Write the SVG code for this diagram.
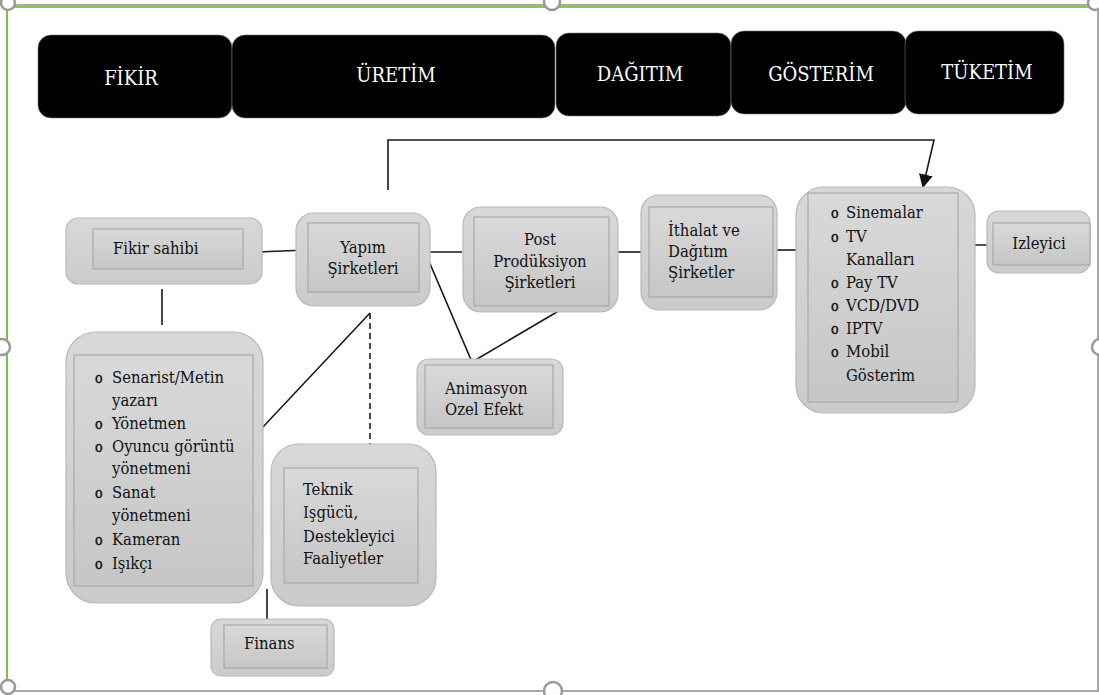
<svg xmlns="http://www.w3.org/2000/svg" width="1099" height="695" viewBox="0 0 1099 695">
<style>
.band{fill:#000;stroke:#777;stroke-width:0.6}
.bt{font-size:20px;fill:#fff;text-anchor:middle}
.outer{fill:url(#go);stroke:#b9b9b9;stroke-width:1.2}
.inner{fill:url(#gi);stroke:#a9a9a9;stroke-width:1.2}
.t{font-size:16.5px;fill:#111}
.c{text-anchor:middle}
.b{font-size:14px;fill:#111;stroke:#111;stroke-width:0.4}
.ln{stroke:#1a1a1a;stroke-width:1.6;fill:none}
.frame{stroke:#a8a8a8;stroke-width:2;fill:none}
.handle{fill:#fff;stroke:#9a9a9a;stroke-width:2.5}
</style>
<defs>
<linearGradient id="go" x1="0" y1="0" x2="0" y2="1">
<stop offset="0" stop-color="#d8d8d8"/><stop offset="1" stop-color="#cbcbcb"/>
</linearGradient>
<linearGradient id="gi" x1="0" y1="0" x2="0" y2="1">
<stop offset="0" stop-color="#d9d9d9"/><stop offset="1" stop-color="#c6c6c6"/>
</linearGradient>
<marker id="ah" viewBox="0 0 10 10" refX="9" refY="5" markerWidth="14" markerHeight="14" orient="auto" markerUnits="userSpaceOnUse">
<path d="M0,0 L10,5 L0,10 z" fill="#111"/>
</marker>
</defs>
<rect width="1099" height="695" fill="#fff"/>
<g id="frame">
<line x1="7" y1="7" x2="1097" y2="7" stroke="#8cc65a" stroke-width="2"/>
<line x1="7" y1="5" x2="1097" y2="5" class="frame"/>
<line x1="7" y1="8" x2="7" y2="682" stroke="#7dc24b" stroke-width="2"/>
<line x1="14" y1="691" x2="1099" y2="691" class="frame"/>
<line x1="1098" y1="8" x2="1098" y2="691" class="frame" stroke-width="1.5"/>
<circle cx="8" cy="3" r="7" class="handle"/>
<circle cx="552" cy="2" r="8" class="handle"/>
<circle cx="1095" cy="3" r="7" class="handle"/>
<circle cx="2" cy="347" r="8" class="handle"/>
<circle cx="1100" cy="347" r="8" class="handle"/>
<circle cx="8" cy="687" r="7" class="handle"/>
<circle cx="553" cy="691" r="9" class="handle"/>
</g>
<g font-family="'DejaVu Serif Condensed', 'DejaVu Serif', serif" font-stretch="condensed">
<g id="band-fikir"><rect x="38" y="35" width="194" height="83" rx="13" class="band"/><text x="131" y="85" class="bt">FİKİR</text></g>
<g id="band-uretim"><rect x="232" y="35" width="323" height="83" rx="13" class="band"/><text x="396" y="82" class="bt">ÜRETİM</text></g>
<g id="band-dagitim"><rect x="556" y="33" width="175" height="83" rx="13" class="band"/><text x="640" y="81" class="bt">DAĞITIM</text></g>
<g id="band-gosterim"><rect x="731" y="31" width="175" height="83" rx="13" class="band"/><text x="821" y="81" class="bt">GÖSTERİM</text></g>
<g id="band-tuketim"><rect x="905" y="31" width="159" height="83" rx="13" class="band"/><text x="987" y="79" class="bt">TÜKETİM</text></g>
<g id="connectors">
<polyline points="388,190 388,140 934,140 923,187" class="ln" marker-end="url(#ah)"/>
<line x1="257" y1="252" x2="307" y2="250" class="ln"/>
<line x1="162" y1="289" x2="162" y2="325" class="ln"/>
<line x1="262" y1="428" x2="370" y2="313" class="ln"/>
<line x1="370" y1="313" x2="370" y2="466" class="ln" stroke-dasharray="6,4"/>
<line x1="267" y1="589" x2="267" y2="624" class="ln"/>
<line x1="425" y1="252" x2="462" y2="252" class="ln"/>
<polyline points="425,252 472,362 562,309" class="ln"/>
<line x1="617" y1="252" x2="648" y2="252" class="ln"/>
<line x1="773" y1="250" x2="800" y2="250" class="ln"/>
<line x1="958" y1="245" x2="991" y2="245" class="ln"/>
</g>
<g id="fikir-sahibi">
<rect x="66" y="218" width="196" height="66" rx="12" class="outer"/>
<rect x="93" y="229" width="150" height="40" class="inner"/>
<text x="113" y="254" class="t">Fikir sahibi</text>
</g>
<g id="yapim">
<rect x="296" y="213" width="134" height="93" rx="18" class="outer"/>
<rect x="308" y="223" width="111" height="69" class="inner"/>
<text x="363" y="253" class="t c">Yapım</text>
<text x="363" y="274" class="t c">Şirketleri</text>
</g>
<g id="post">
<rect x="463" y="207" width="155" height="105" rx="18" class="outer"/>
<rect x="474" y="217" width="135" height="89" class="inner"/>
<text x="540" y="245" class="t c">Post</text>
<text x="540" y="267" class="t c">Prodüksiyon</text>
<text x="540" y="288" class="t c">Şirketleri</text>
</g>
<g id="ithalat">
<rect x="641" y="195" width="136" height="115" rx="18" class="outer"/>
<rect x="649" y="207" width="124" height="90" class="inner"/>
<text x="668" y="236" class="t">İthalat ve</text>
<text x="668" y="257" class="t">Dağıtım</text>
<text x="668" y="278" class="t">Şirketler</text>
</g>
<g id="animasyon">
<rect x="417" y="359" width="146" height="76" rx="12" class="outer"/>
<rect x="425" y="365" width="128" height="63" class="inner"/>
<text x="445" y="394" class="t">Animasyon</text>
<text x="445" y="415" class="t">Ozel Efekt</text>
</g>
<g id="gosterim">
<rect x="796" y="187" width="179" height="226" rx="28" class="outer"/>
<rect x="808" y="193" width="150" height="209" class="inner"/>
<text x="831" y="218" class="b">o</text><text x="846" y="218" class="t">Sinemalar</text>
<text x="831" y="242" class="b">o</text><text x="846" y="242" class="t">TV</text>
<text x="846" y="265" class="t">Kanalları</text>
<text x="831" y="288" class="b">o</text><text x="846" y="288" class="t">Pay TV</text>
<text x="831" y="311" class="b">o</text><text x="846" y="311" class="t">VCD/DVD</text>
<text x="831" y="334" class="b">o</text><text x="846" y="334" class="t">IPTV</text>
<text x="831" y="357" class="b">o</text><text x="846" y="357" class="t">Mobil</text>
<text x="846" y="381" class="t">Gösterim</text>
</g>
<g id="izleyici">
<rect x="987" y="211" width="103" height="62" rx="12" class="outer"/>
<rect x="993" y="223" width="97" height="42" class="inner"/>
<text x="1039" y="249" class="t c">Izleyici</text>
</g>
<g id="ekip">
<rect x="66" y="332" width="197" height="271" rx="30" class="outer"/>
<rect x="74" y="355" width="179" height="231" class="inner"/>
<text x="95" y="383" class="b">o</text><text x="112" y="383" class="t">Senarist/Metin</text>
<text x="112" y="406" class="t">yazarı</text>
<text x="95" y="429" class="b">o</text><text x="112" y="429" class="t">Yönetmen</text>
<text x="95" y="452" class="b">o</text><text x="112" y="452" class="t">Oyuncu görüntü</text>
<text x="112" y="474" class="t">yönetmeni</text>
<text x="95" y="498" class="b">o</text><text x="112" y="498" class="t">Sanat</text>
<text x="112" y="521" class="t">yönetmeni</text>
<text x="95" y="545" class="b">o</text><text x="112" y="545" class="t">Kameran</text>
<text x="95" y="569" class="b">o</text><text x="112" y="569" class="t">Işıkçı</text>
</g>
<g id="teknik">
<rect x="271" y="444" width="165" height="162" rx="28" class="outer"/>
<rect x="284" y="468" width="134" height="115" class="inner"/>
<text x="303" y="495" class="t">Teknik</text>
<text x="303" y="518" class="t">Işgücü,</text>
<text x="303" y="542" class="t">Destekleyici</text>
<text x="303" y="564" class="t">Faaliyetler</text>
</g>
<g id="finans">
<rect x="211" y="619" width="123" height="57" rx="10" class="outer"/>
<rect x="224" y="625" width="103" height="43" class="inner"/>
<text x="244" y="649" class="t">Finans</text>
</g>
</g>
</svg>
